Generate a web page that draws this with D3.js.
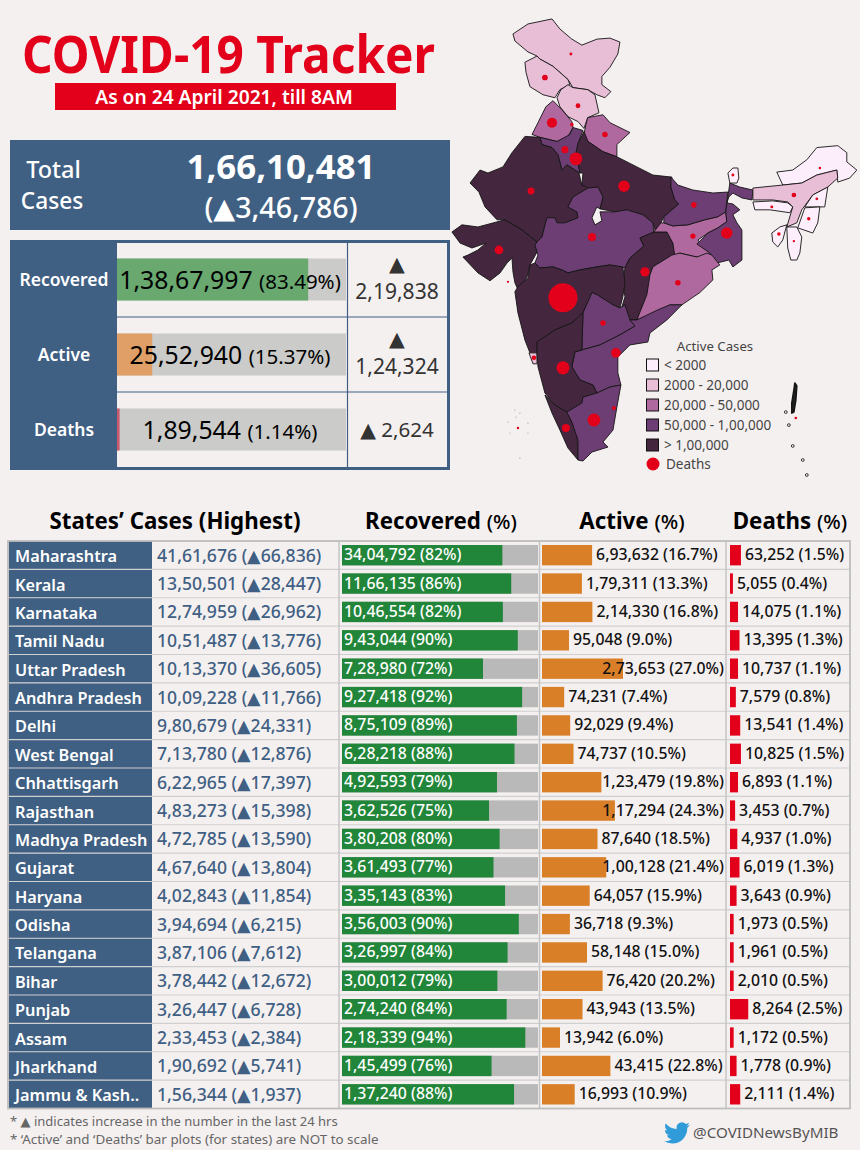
<!DOCTYPE html>
<html>
<head>
<meta charset="utf-8">
<script src="https://cdn.jsdelivr.net/npm/d3@7"></script>
<style>
  body { margin: 0; background: #f5f0f0; }
  text { font-family: "Noto Sans", "DejaVu Sans", sans-serif; }
</style>
</head>
<body>
<div id="chart"></div>
<script>
// summary block
const totalCases = 16610481, totalChange = 346786;
const summaryLabels = ["Recovered", "Active", "Deaths"];
const summaryValues = [13867997, 2552940, 189544];
const summaryPct = [83.49, 15.37, 1.14];
const summaryChange = [219838, 124324, 2624];

// states table
const states = ["Maharashtra", "Kerala", "Karnataka", "Tamil Nadu", "Uttar Pradesh", "Andhra Pradesh", "Delhi", "West Bengal", "Chhattisgarh", "Rajasthan", "Madhya Pradesh", "Gujarat", "Haryana", "Odisha", "Telangana", "Bihar", "Punjab", "Assam", "Jharkhand", "Jammu & Kash.."];
const cases = [4161676, 1350501, 1274959, 1051487, 1013370, 1009228, 980679, 713780, 622965, 483273, 472785, 467640, 402843, 394694, 387106, 378442, 326447, 233453, 190692, 156344];
const caseChange = [66836, 28447, 26962, 13776, 36605, 11766, 24331, 12876, 17397, 15398, 13590, 13804, 11854, 6215, 7612, 12672, 6728, 2384, 5741, 1937];
const recovered = [3404792, 1166135, 1046554, 943044, 728980, 927418, 875109, 628218, 492593, 362526, 380208, 361493, 335143, 356003, 326997, 300012, 274240, 218339, 145499, 137240];
const recoveredPct = [82, 86, 82, 90, 72, 92, 89, 88, 79, 75, 80, 77, 83, 90, 84, 79, 84, 94, 76, 88];
const active = [693632, 179311, 214330, 95048, 273653, 74231, 92029, 74737, 123479, 117294, 87640, 100128, 64057, 36718, 58148, 76420, 43943, 13942, 43415, 16993];
const activePct = [16.7, 13.3, 16.8, 9.0, 27.0, 7.4, 9.4, 10.5, 19.8, 24.3, 18.5, 21.4, 15.9, 9.3, 15.0, 20.2, 13.5, 6.0, 22.8, 10.9];
const deaths = [63252, 5055, 14075, 13395, 10737, 7579, 13541, 10825, 6893, 3453, 4937, 6019, 3643, 1973, 1961, 2010, 8264, 1172, 1778, 2111];
const deathPct = [1.5, 0.4, 1.1, 1.3, 1.1, 0.8, 1.4, 1.5, 1.1, 0.7, 1.0, 1.3, 0.9, 0.5, 0.5, 0.5, 2.5, 0.5, 0.9, 1.4];

// map: state outlines in [lon, lat], active cases per outline
const mapNames = ["Ladakh", "Jammu & Kashmir", "Himachal Pradesh", "Punjab", "Uttarakhand", "Haryana", "Uttar Pradesh", "Delhi", "Rajasthan", "Gujarat", "Madhya Pradesh", "Chhattisgarh", "Jharkhand", "Bihar", "West Bengal", "Sikkim", "Odisha", "Maharashtra", "Goa", "Telangana", "Andhra Pradesh", "Karnataka", "Kerala", "Tamil Nadu", "Arunachal Pradesh", "Assam", "Meghalaya", "Nagaland", "Manipur", "Tripura", "Mizoram", "Andaman"];
const mapActive = [2100, 16993, 12000, 43943, 30000, 64057, 273653, 92029, 117294, 100128, 87640, 123479, 43415, 76420, 74737, 800, 36718, 693632, 9000, 58148, 74231, 214330, 179311, 95048, 700, 13942, 900, 500, 400, 300, 400, 300];
const mapOutlines = [
  [[72.66,36.17],[73.74,36.75],[75.47,37.04],[76.04,36.46],[76.90,35.87],[77.62,35.52],[78.70,35.87],[79.64,35.93],[80.36,35.70],[80.21,35.00],[79.64,34.21],[79.06,33.66],[79.06,33.17],[79.71,32.75],[79.28,32.38],[78.70,32.56],[78.04,32.87],[76.98,32.99],[76.62,33.48],[75.54,34.27],[74.60,34.70],[74.39,34.88],[73.74,35.12],[72.80,35.76]],
  [[74.39,34.88],[74.60,34.70],[75.54,34.27],[76.62,33.48],[76.76,33.17],[76.04,32.87],[75.68,32.38],[74.82,32.56],[73.88,33.05],[73.60,33.90],[73.52,34.51]],
  [[76.62,33.17],[76.98,32.99],[78.04,32.87],[78.56,32.56],[78.85,31.46],[78.04,31.16],[77.77,30.49],[77.34,30.92],[76.62,31.22],[76.04,31.83],[75.83,32.38],[76.11,32.87]],
  [[75.54,32.20],[76.18,31.65],[76.90,30.92],[76.98,30.55],[76.62,30.00],[75.83,29.68],[74.60,29.94],[74.03,30.12],[74.46,30.85],[75.03,31.83]],
  [[78.04,31.16],[79.14,31.34],[79.64,30.85],[81.08,30.24],[80.14,29.49],[80.14,28.72],[79.14,29.04],[78.06,29.68],[77.77,30.12],[77.91,30.73]],
  [[75.83,29.68],[76.76,30.12],[76.98,30.55],[77.70,30.37],[77.34,29.55],[77.26,28.98],[77.48,27.69],[77.12,27.88],[76.54,28.21],[76.18,27.88],[75.90,28.85],[75.47,29.30],[74.75,29.49],[74.60,29.94]],
  [[77.77,30.30],[78.06,29.68],[79.14,29.04],[80.14,28.72],[81.58,28.08],[82.73,27.56],[84.10,27.43],[84.03,26.79],[84.31,25.96],[84.60,25.70],[83.52,24.87],[83.31,24.47],[82.95,23.80],[82.73,24.47],[82.01,25.00],[80.86,25.32],[80.00,25.19],[78.92,25.38],[79.14,26.15],[78.78,26.79],[78.20,26.73],[77.62,26.92],[77.70,27.69],[77.48,27.69],[77.19,28.98],[77.34,29.55]],
  [[76.98,28.91],[77.41,28.91],[77.48,28.34],[77.05,28.28]],
  [[73.52,30.00],[74.60,29.94],[74.75,29.49],[75.47,29.30],[75.90,28.85],[76.18,27.88],[76.54,28.21],[77.12,27.88],[77.41,27.69],[77.62,26.92],[78.06,26.73],[76.98,26.15],[76.62,25.51],[77.26,25.19],[77.34,24.80],[76.40,24.47],[75.83,24.47],[75.68,24.80],[75.10,24.80],[74.75,23.54],[74.39,23.21],[73.31,24.00],[72.08,24.67],[71.51,24.67],[70.65,25.51],[70.21,26.47],[69.57,27.05],[70.29,27.88],[70.86,27.69],[71.94,28.08],[72.59,28.98]],
  [[68.27,23.87],[68.99,24.34],[70.14,24.20],[72.08,24.67],[73.31,24.00],[74.39,23.21],[74.46,22.68],[74.24,22.28],[73.88,21.68],[73.67,20.88],[73.38,20.48],[73.02,20.02],[72.80,20.48],[72.66,21.22],[72.59,22.14],[72.23,21.81],[71.73,21.15],[71.01,20.62],[70.14,21.15],[69.06,22.21],[69.42,22.34],[70.14,22.68],[70.72,23.14],[69.71,22.81],[68.85,23.14]],
  [[76.62,25.51],[76.98,26.15],[78.06,26.73],[78.78,26.79],[79.14,26.15],[78.92,25.38],[78.70,25.51],[78.35,24.80],[78.56,24.34],[79.06,24.60],[78.92,25.19],[80.00,25.19],[80.86,25.32],[82.01,25.00],[82.73,24.47],[82.80,23.87],[81.80,23.47],[82.08,22.94],[81.08,22.14],[80.72,21.48],[79.64,21.68],[78.70,21.55],[77.48,21.35],[76.62,21.15],[76.18,21.35],[75.54,21.55],[74.60,21.48],[74.24,21.81],[74.46,22.34],[74.24,23.01],[74.39,23.21],[74.75,23.54],[75.10,24.80],[75.68,24.80],[75.83,24.47],[76.40,24.47],[77.34,24.80],[77.26,25.19]],
  [[82.80,23.87],[83.74,23.87],[84.17,23.14],[84.39,22.34],[82.88,21.68],[82.52,20.88],[82.30,19.54],[82.01,18.99],[81.58,17.96],[81.08,17.96],[80.50,18.85],[80.72,19.54],[80.57,20.48],[80.72,21.48],[81.08,22.14],[82.08,22.94],[81.80,23.47]],
  [[83.52,24.47],[84.17,24.27],[85.25,24.34],[86.47,24.67],[87.41,24.87],[87.98,25.19],[88.05,24.54],[87.41,24.14],[86.69,23.80],[85.97,23.34],[86.47,22.81],[86.98,22.41],[86.69,22.34],[85.90,22.21],[84.67,22.47],[84.31,22.28],[84.17,23.14],[83.74,23.87],[82.80,23.87],[83.31,24.47]],
  [[84.03,27.43],[84.53,26.92],[85.61,26.60],[87.05,26.41],[88.13,26.47],[88.05,25.83],[87.98,25.19],[87.41,24.87],[86.47,24.67],[85.25,24.34],[84.17,24.27],[83.52,24.47],[83.52,24.87],[84.60,25.70],[84.31,25.96],[84.03,26.79]],
  [[88.27,27.05],[88.99,26.79],[89.93,26.60],[89.86,25.96],[89.14,26.09],[88.49,26.41],[88.20,26.15],[88.05,25.77],[88.49,25.70],[88.99,25.32],[88.49,25.00],[88.78,24.47],[89.14,24.00],[89.14,22.68],[89.14,22.01],[88.49,21.55],[88.20,22.01],[87.34,21.81],[86.83,22.48],[85.90,23.08],[86.69,23.80],[87.41,24.14],[88.05,24.54],[87.98,25.19]],
  [[88.13,27.69],[88.49,28.01],[88.85,28.01],[88.92,27.37],[88.78,27.05],[88.27,27.05]],
  [[84.10,22.34],[84.67,22.47],[85.90,22.21],[86.62,22.47],[86.98,22.34],[87.55,21.68],[86.98,21.35],[87.05,20.68],[86.11,19.82],[84.82,18.99],[83.96,18.99],[83.09,18.51],[81.58,17.96],[82.30,19.68],[82.52,21.02],[82.73,21.55]],
  [[74.24,21.81],[74.60,21.48],[75.54,21.55],[76.18,21.35],[76.62,21.15],[77.48,21.35],[78.70,21.55],[79.64,21.68],[80.57,21.55],[80.72,20.48],[80.57,19.54],[80.36,18.78],[79.86,18.99],[78.70,19.68],[78.35,19.82],[77.70,18.44],[76.90,17.75],[75.68,17.27],[74.39,16.44],[74.46,15.69],[73.88,15.69],[73.52,16.58],[73.02,18.44],[72.80,19.88],[73.02,20.22],[73.74,20.82],[73.88,21.68]],
  [[73.81,15.69],[74.39,15.69],[74.39,14.93],[74.10,14.93]],
  [[78.35,19.82],[78.70,19.68],[79.86,18.99],[80.36,18.78],[80.72,18.99],[81.08,17.96],[81.44,17.54],[80.36,16.93],[78.92,16.24],[77.62,15.89],[77.70,18.44]],
  [[81.08,17.96],[81.58,17.96],[83.09,18.65],[83.96,18.99],[84.82,18.99],[83.74,17.96],[82.52,17.06],[82.37,16.44],[81.08,16.24],[80.21,15.41],[80.21,14.30],[80.43,13.45],[79.64,13.31],[78.70,12.89],[78.42,13.45],[77.48,13.80],[76.90,14.72],[77.12,15.76],[77.62,15.89],[78.92,16.24],[80.36,16.93],[81.44,17.54]],
  [[74.39,16.44],[75.68,17.27],[76.90,17.75],[77.70,18.44],[77.62,15.89],[77.12,15.76],[76.90,14.72],[77.48,13.80],[78.42,13.45],[78.70,12.89],[77.70,12.60],[77.62,12.18],[76.54,11.55],[75.68,12.04],[74.96,12.89],[74.46,14.72],[74.39,15.69]],
  [[74.96,12.75],[75.68,12.04],[76.54,11.55],[76.90,10.84],[77.26,10.07],[77.34,8.65],[77.34,8.15],[76.62,9.00],[76.04,10.28],[75.47,11.48]],
  [[76.54,11.55],[77.62,12.18],[77.70,12.60],[78.70,12.89],[79.64,13.31],[80.43,13.45],[80.14,11.90],[79.86,10.28],[79.14,9.43],[79.50,9.07],[78.35,8.72],[77.70,8.08],[77.34,8.15],[77.34,9.57],[76.90,10.84]],
  [[91.65,27.75],[92.80,27.88],[93.81,28.53],[94.53,29.30],[96.04,29.42],[96.69,28.98],[96.69,28.40],[97.41,27.88],[96.90,27.37],[96.04,27.11],[95.97,27.88],[94.53,27.56],[93.45,27.05],[92.08,26.92]],
  [[89.93,26.73],[92.08,26.92],[93.45,27.05],[94.53,27.56],[95.97,27.88],[96.04,27.37],[95.32,26.79],[94.24,26.28],[93.45,25.32],[93.09,24.47],[92.37,24.20],[92.80,25.51],[92.44,25.83],[91.36,25.96],[89.93,25.96]],
  [[89.93,25.83],[91.36,25.90],[92.44,25.77],[92.80,25.51],[92.59,25.13],[91.15,25.32],[90.07,25.32]],
  [[94.24,26.28],[95.32,26.79],[95.10,25.51],[94.24,25.51],[93.67,25.51]],
  [[93.67,25.45],[94.75,25.51],[94.60,24.47],[94.24,23.80],[93.16,24.14]],
  [[91.29,23.80],[91.87,24.20],[92.37,24.34],[92.08,23.34],[91.72,22.88],[91.36,23.21]],
  [[92.37,24.20],[93.09,24.20],[93.45,23.54],[93.31,22.48],[93.09,22.01],[92.66,22.01],[92.44,22.81]],
  [[92.95,13.59],[93.09,13.38],[93.02,12.39],[92.88,11.55],[92.73,11.48],[92.73,12.18],[92.88,13.10]]
];
const lakshadweep = [[72.80,11.69],[73.16,11.48],[72.30,10.84],[72.88,11.20],[73.74,10.77],[72.44,10.07],[73.74,10.07],[73.16,8.29]];
const nicobar = [[92.52,10.63],[92.80,9.15],[93.52,8.15],[93.81,7.08],[92.30,11.55]];

// deaths bubbles on the map
const bubbleDeaths = [63252, 130, 2111, 1300, 8264, 420, 2000, 3643, 13541, 3453, 10737, 2010, 140, 50, 95, 1172, 150, 370, 390, 12, 6019, 4937, 1778, 10825, 6893, 1973, 4, 1961, 7579, 1100, 14075, 13395, 750, 5055, 20, 66];
const bubbleLon = [76.26, 76.83, 74.96, 77.34, 75.47, 76.90, 79.28, 76.40, 77.19, 73.96, 80.65, 85.68, 88.49, 94.75, 94.53, 92.88, 91.29, 93.95, 91.80, 92.88, 71.65, 78.35, 85.61, 88.05, 82.16, 84.53, 72.30, 79.14, 80.07, 74.17, 76.26, 78.49, 79.93, 76.47, 73.02, 93.02];
const bubbleLat = [19.47, 35.00, 33.60, 31.89, 30.85, 30.73, 30.12, 29.17, 28.59, 26.54, 26.85, 25.64, 27.56, 28.01, 26.03, 26.28, 25.51, 24.74, 23.74, 23.27, 22.68, 23.54, 23.60, 23.80, 21.22, 20.48, 20.55, 17.75, 15.69, 15.35, 14.65, 10.99, 11.83, 10.42, 10.42, 11.13];

const legendLabels = ["< 2000", "2000 - 20,000", "20,000 - 50,000", "50,000 - 1,00,000", "> 1,00,000"];
const binEdges = [2000, 20000, 50000, 100000];
const binColors = ["#fdeefb", "#e8bdd6", "#b0699f", "#6d3e74", "#44263f"];

const BLUE = "#3f5f83", RED = "#e2001a", INK = "#333333";

// indian digit grouping
function inr(n) {
  const s = String(n);
  if (s.length <= 3) return s;
  return s.slice(0, -3).replace(/\B(?=(\d{2})+$)/g, ",") + "," + s.slice(-3);
}

const svg = d3.select("#chart").append("svg")
    .attr("width", 860).attr("height", 1150)
    .style("display", "block");

function label(parent, x, y, size, fill, weight, anchor, str) {
  return parent.append("text")
      .attr("x", x).attr("y", y)
      .attr("font-size", size).attr("fill", fill)
      .attr("font-weight", weight).attr("text-anchor", anchor)
      .text(str);
}

// ---- map
const projection = d3.geoMercator().scale(796).center([68.2, 8.08]).translate([451, 461]);
const mapLine = d3.line().curve(d3.curveLinearClosed).x(d => projection(d)[0]).y(d => projection(d)[1]);
const binColor = d3.scaleThreshold().domain(binEdges).range(binColors);
const radius = d3.scalePow().exponent(0.6).domain([0, 63252]).range([1.1, 14.5]);

svg.append("g").selectAll("path")
  .data(mapOutlines)
  .join("path")
    .attr("d", mapLine)
    .attr("fill", (d, i) => mapNames[i] === "Andaman" ? "#222" : binColor(mapActive[i]))
    .attr("stroke", "#141414")
    .attr("stroke-width", (d, i) => mapNames[i] === "Andaman" ? 1.6 : 0.9)
    .attr("stroke-linejoin", "round")
  .append("title").text((d, i) => mapNames[i]);

svg.append("g").selectAll("circle")
  .data(lakshadweep)
  .join("circle")
    .attr("cx", d => projection(d)[0])
    .attr("cy", d => projection(d)[1])
    .attr("r", 0.6)
    .attr("fill", "#999");

svg.append("g").selectAll("circle")
  .data(nicobar)
  .join("circle")
    .attr("cx", d => projection(d)[0])
    .attr("cy", d => projection(d)[1])
    .attr("r", 1.4)
    .attr("fill", "#f5f0f0")
    .attr("stroke", "#222")
    .attr("stroke-width", 0.9);

svg.append("g").selectAll("circle")
  .data(bubbleDeaths)
  .join("circle")
    .attr("cx", (d, i) => projection([bubbleLon[i], bubbleLat[i]])[0])
    .attr("cy", (d, i) => projection([bubbleLon[i], bubbleLat[i]])[1])
    .attr("r", d => radius(d))
    .attr("fill", RED);

// map legend
const legend = svg.append("g");
label(legend, 715, 351, 13.2, "#444", 400, "middle", "Active Cases");
legendLabels.forEach((t, i) => {
  const y = 359 + i * 20;
  legend.append("rect").attr("x", 646.5).attr("y", y).attr("width", 12).attr("height", 12)
      .attr("fill", binColors[i]).attr("stroke", "#111").attr("stroke-width", 1);
  label(legend, 664, y + 10.5, 13.5, "#444", 400, "start", t);
});
legend.append("circle").attr("cx", 653).attr("cy", 464).attr("r", 6.5).attr("fill", RED);
label(legend, 666, 469, 13.5, "#444", 400, "start", "Deaths");

// ---- title
label(svg, 228.5, 73, 52, RED, 700, "middle", "COVID-19 Tracker")
    .attr("textLength", 413).attr("lengthAdjust", "spacingAndGlyphs");
svg.append("rect").attr("x", 55).attr("y", 83).attr("width", 341).attr("height", 27).attr("fill", RED);
label(svg, 224, 103.5, 19.2, "#fff", 600, "middle", "As on 24 April 2021, till 8AM");

// ---- total cases box
svg.append("rect").attr("x", 10).attr("y", 140).attr("width", 440).attr("height", 90).attr("fill", BLUE);
label(svg, 53.5, 178, 23.5, "#fff", 500, "middle", "Total");
label(svg, 52, 208.5, 22.7, "#fff", 500, "middle", "Cases");
label(svg, 281, 179, 34.8, "#fff", 700, "middle", inr(totalCases));
label(svg, 281, 218, 28.5, "#fff", 500, "middle", "(▲" + inr(totalChange) + ")");

// ---- summary panel
const panelX = d3.scaleLinear().domain([0, 100]).range([117, 346]);
const panelY = d3.scaleBand().domain(summaryLabels).range([242, 467]);
const panelFills = ["#69a970", "#e09f66", "#c75a6e"];

svg.append("rect").attr("x", 11.5).attr("y", 241.5).attr("width", 437).attr("height", 227)
    .attr("fill", "#f5f0f0").attr("stroke", BLUE).attr("stroke-width", 3);
svg.append("rect").attr("x", 10).attr("y", 240).attr("width", 107).attr("height", 230).attr("fill", BLUE);
svg.append("line").attr("x1", 347.5).attr("x2", 347.5).attr("y1", 242).attr("y2", 468)
    .attr("stroke", BLUE).attr("stroke-width", 1.2);
summaryLabels.slice(1).forEach(s => {
  svg.append("line").attr("x1", 117).attr("x2", 447).attr("y1", panelY(s)).attr("y2", panelY(s))
      .attr("stroke", BLUE).attr("stroke-width", 1.2);
});
summaryLabels.forEach((s, i) => {
  const top = panelY(s), h = panelY.bandwidth(), cy = top + h / 2;
  label(svg, 64, cy + 6.5, 17.5, "#fff", 600, "middle", s);
  svg.append("rect").attr("x", panelX(0)).attr("y", cy - 21).attr("width", panelX(100) - panelX(0)).attr("height", 42).attr("fill", "#cbcbc9");
  svg.append("rect").attr("x", panelX(0)).attr("y", cy - 21).attr("width", panelX(summaryPct[i]) - panelX(0)).attr("height", 42).attr("fill", panelFills[i]);
  const t = label(svg, 230, cy + 9, 24.8, "#000", 400, "middle", "");
  t.append("tspan").text(inr(summaryValues[i]) + " ");
  t.append("tspan").attr("font-size", 20.5).text("(" + summaryPct[i] + "%)");
  if (i < 2) {
    label(svg, 397, cy - 9, 20.5, INK, 400, "middle", "▲");
    label(svg, 397, cy + 19.5, 21, INK, 400, "middle", inr(summaryChange[i]));
  } else {
    label(svg, 397, cy + 7, 20.5, INK, 400, "middle", "▲ " + inr(summaryChange[i]));
  }
});

// ---- states table
const rowY = d3.scaleBand().domain(states).range([541, 1108.5]);
const recX = d3.scaleLinear().domain([0, 100]).range([342, 538]);
const actX = d3.scaleLinear().domain([0, 100]).range([542, 842]);
const dthX = d3.scaleLinear().domain([0, 10]).range([730, 803]);

const headerY = 529;
label(svg, 175, headerY, 22.3, "#000", 700, "middle", "States’ Cases (Highest)");
[["Recovered", 441], ["Active", 632], ["Deaths", 790]].forEach(h => {
  const t = label(svg, h[1], headerY, 22.3, "#000", 700, "middle", "");
  t.append("tspan").text(h[0] + " ");
  t.append("tspan").attr("font-weight", 500).attr("font-size", 20.5).text("(%)");
});

const rows = svg.append("g").selectAll("g")
  .data(states)
  .join("g")
    .attr("transform", d => `translate(0,${rowY(d)})`);
const rh = rowY.bandwidth();

rows.append("rect").attr("x", 9).attr("y", 0).attr("width", 143).attr("height", rh).attr("fill", BLUE);
rows.filter((d, i) => i > 0).append("line")
    .attr("x1", 9).attr("x2", 850).attr("y1", 0).attr("y2", 0)
    .attr("stroke", "#cfcfcf").attr("stroke-width", 1.2);
rows.append("text")
    .attr("x", 15).attr("y", rh / 2 + 7)
    .attr("font-size", 16.3).attr("font-weight", 600).attr("fill", "#fff")
    .text(d => d);
rows.append("text")
    .attr("x", 157).attr("y", rh / 2 + 6.5)
    .attr("font-size", 17.6).attr("font-weight", 500).attr("fill", BLUE)
    .text((d, i) => inr(cases[i]) + " (▲" + inr(caseChange[i]) + ")");

// recovered
rows.append("rect").attr("x", recX(0)).attr("y", 4).attr("width", recX(100) - recX(0)).attr("height", rh - 8).attr("fill", "#b9b9b9");
rows.append("rect").attr("x", recX(0)).attr("y", 4).attr("height", rh - 8).attr("fill", "#22863a")
    .attr("width", (d, i) => recX(recovered[i] / cases[i] * 100) - recX(0));
rows.append("text")
    .attr("x", 344).attr("y", rh / 2 + 5)
    .attr("font-size", 15.8).attr("font-weight", 500).attr("fill", "#fff")
    .text((d, i) => inr(recovered[i]) + " (" + recoveredPct[i] + "%)");

// active: label follows the bar but stays inside the column
rows.append("rect").attr("x", actX(0)).attr("y", 4).attr("height", rh - 8).attr("fill", "#d97f28")
    .attr("width", (d, i) => actX(activePct[i]) - actX(0));
rows.append("text")
    .attr("y", rh / 2 + 5)
    .attr("font-size", 15.8).attr("font-weight", 500).attr("fill", "#111")
    .text((d, i) => inr(active[i]) + " (" + activePct[i].toFixed(1) + "%)")
    .attr("x", function(d, i) {
      return Math.min(actX(activePct[i]) + 4, 724 - this.getComputedTextLength());
    });

// deaths
rows.append("rect").attr("x", dthX(0)).attr("y", 4).attr("height", rh - 8).attr("fill", RED)
    .attr("width", (d, i) => dthX(deathPct[i]) - dthX(0));
rows.append("text")
    .attr("x", (d, i) => dthX(deathPct[i]) + 4).attr("y", rh / 2 + 5)
    .attr("font-size", 15.8).attr("font-weight", 500).attr("fill", "#111")
    .text((d, i) => inr(deaths[i]) + " (" + deathPct[i].toFixed(1) + "%)");

// column dividers and outer frame
[339, 539.5, 726].forEach(x => {
  svg.append("line").attr("x1", x).attr("x2", x).attr("y1", 541).attr("y2", 1108.5)
      .attr("stroke", "#c4c4c4").attr("stroke-width", 1.5);
});
svg.append("rect").attr("x", 8).attr("y", 541).attr("width", 842).attr("height", 567.5)
    .attr("fill", "none").attr("stroke", "#bdbdbd").attr("stroke-width", 1.8);

// ---- footer
label(svg, 10, 1126, 13, "#666", 400, "start", "* ▲ indicates increase in the number in the last 24 hrs");
label(svg, 10, 1144, 13.4, "#666", 400, "start", "* ‘Active’ and ‘Deaths’ bar plots (for states) are NOT to scale");
svg.append("path")
    .attr("transform", "translate(664,1120) scale(1.08)")
    .attr("fill", "#2f9bd8")
    .attr("d", "M23.953 4.57a10 10 0 01-2.825.775 4.958 4.958 0 002.163-2.723c-.951.555-2.005.959-3.127 1.184a4.92 4.92 0 00-8.384 4.482C7.69 8.095 4.067 6.13 1.64 3.162a4.822 4.822 0 00-.666 2.475c0 1.71.87 3.213 2.188 4.096a4.904 4.904 0 01-2.228-.616v.06a4.923 4.923 0 003.946 4.827 4.996 4.996 0 01-2.212.085 4.936 4.936 0 004.604 3.417 9.867 9.867 0 01-6.102 2.105c-.39 0-.779-.023-1.17-.067a13.995 13.995 0 007.557 2.209c9.053 0 13.998-7.496 13.998-13.985 0-.21 0-.42-.015-.63A9.935 9.935 0 0024 4.59z");
label(svg, 693, 1138, 15.2, "#555", 400, "start", "@COVIDNewsByMIB");
</script>
</body>
</html>
